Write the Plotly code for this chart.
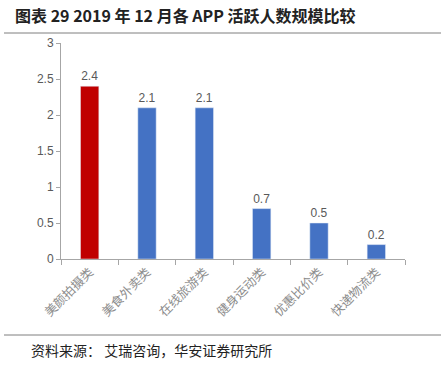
import plotly.graph_objects as go

categories = ["美颜拍摄类", "美食外卖类", "在线旅游类", "健身运动类", "优惠比价类", "快递物流类"]
values = [2.4, 2.1, 2.1, 0.7, 0.5, 0.2]
colors = ["#C00000", "#4472C4", "#4472C4", "#4472C4", "#4472C4", "#4472C4"]
title_text = "图表 29 2019 年 12 月各 APP 活跃人数规模比较"
source_text = "资料来源： 艾瑞咨询，华安证券研究所"

W, H = 447, 365
L, T = 61, 43
R = W - 405
B = H - 259
pw, ph = W - L - R, H - T - B

def px_x(x):
    return (x - L) / pw

def px_y(y):
    return (H - B - y) / ph

fig = go.Figure(go.Bar(
    x=categories, y=values, marker_color=colors, width=0.32,
    text=[f"{v}" for v in values], textposition="outside",
    textfont=dict(size=12, color="#595959", family="Arial, Liberation Sans"),
    cliponaxis=False,
))

fig.update_layout(
    width=W, height=H, margin=dict(l=L, r=R, t=T, b=B, autoexpand=False),
    plot_bgcolor="white", paper_bgcolor="white", showlegend=False,
    font=dict(family="Arial, Liberation Sans, Noto Sans CJK SC"),
    xaxis=dict(showline=True, linecolor="#A6A6A6", ticks="outside", tickson="boundaries",
               tickcolor="#A6A6A6", ticklen=5, tickangle=-45, automargin=False,
               tickfont=dict(size=12.5, color="#8C8C8C", family="Noto Sans CJK SC")),
    yaxis=dict(range=[0, 3], dtick=0.5, showline=True, linecolor="#A6A6A6", ticks="outside",
               tickcolor="#A6A6A6", ticklen=4, showgrid=False, zeroline=False, automargin=False,
               tickfont=dict(size=12, color="#595959")),
    shapes=[
        dict(type="line", xref="paper", yref="paper", x0=px_x(4), x1=px_x(441), y0=px_y(33), y1=px_y(33),
             line=dict(color="#7F7F7F", width=1)),
        dict(type="line", xref="paper", yref="paper", x0=px_x(4), x1=px_x(441), y0=px_y(335), y1=px_y(335),
             line=dict(color="#7F7F7F", width=1)),
    ],
    annotations=[
        dict(text=f"<b>{title_text}</b>", xref="paper", yref="paper", x=px_x(13), y=px_y(15),
             xanchor="left", yanchor="middle", showarrow=False,
             font=dict(size=16, color="#222222", family="Noto Sans CJK SC")),
        dict(text=source_text, xref="paper", yref="paper", x=px_x(29), y=px_y(350),
             xanchor="left", yanchor="middle", showarrow=False,
             font=dict(size=14, color="#222222", family="Noto Sans CJK SC")),
    ],
)

fig.write_html("out.html", config={"displayModeBar": False},
               post_script="document.body.style.margin='0';")
